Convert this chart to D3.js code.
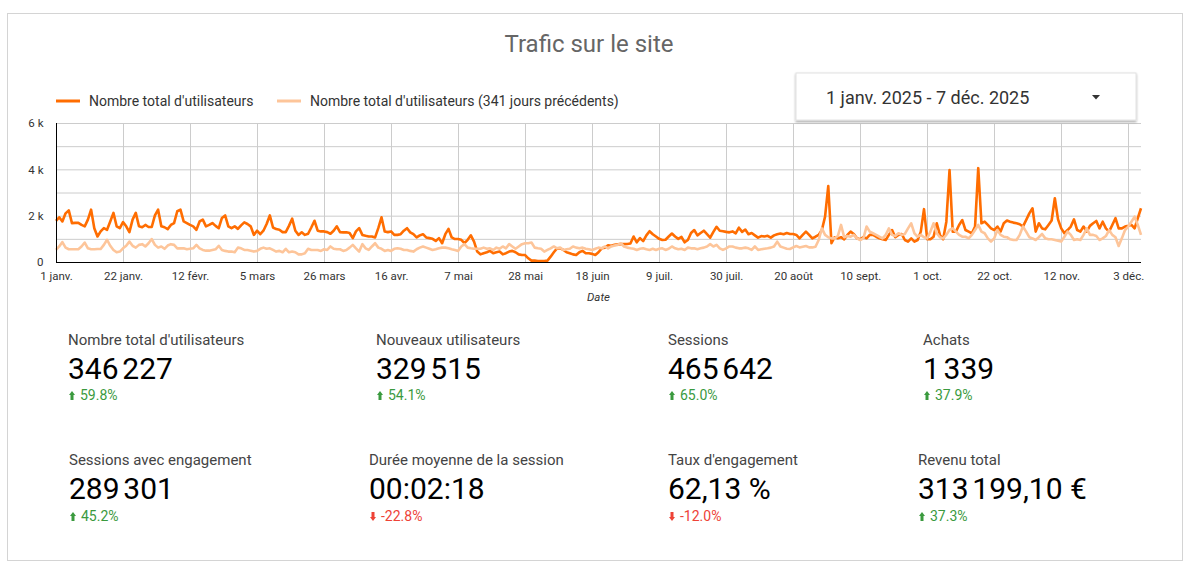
<!DOCTYPE html>
<html lang="fr">
<head>
<meta charset="utf-8">
<script src="https://cdn.jsdelivr.net/npm/d3@7"></script>
<style>
  html, body { margin: 0; padding: 0; background: #fff; }
  svg { display: block; font-family: Roboto, "Noto Sans", sans-serif; }
</style>
</head>
<body>
<svg id="chart" width="1189" height="566"></svg>
<script>
// ---------------- DATA ----------------
const chartTitle = "Trafic sur le site";
const seriesNames = ["Nombre total d'utilisateurs", "Nombre total d'utilisateurs (341 jours précédents)"];
const dateRangeLabel = "1 janv. 2025 - 7 déc. 2025";
const startDate = "2025-01-01";
const endDate = "2025-12-07";
const xAxisTitle = "Date";

const xTickLabels = ["1 janv.", "22 janv.", "12 févr.", "5 mars", "26 mars", "16 avr.", "7 mai", "28 mai",
  "18 juin", "9 juil.", "30 juil.", "20 août", "10 sept.", "1 oct.", "22 oct.", "12 nov.", "3 déc."];
const xTickStepDays = 21;
const yTickValues = [0, 2000, 4000, 6000];
const yTickLabels = ["0", "2 k", "4 k", "6 k"];
const yGridValues = [1000, 2000, 3000, 4000, 5000, 6000];

// Daily users, 1 janv. 2025 -> 7 déc. 2025 (341 days)
const currentUsers = [
  1780,1930,1750,2100,2230,1680,1690,1690,1600,1540,
  1830,2260,1460,1100,1320,1460,1390,1750,2120,1540,
  1460,1720,1540,1290,1830,2120,1540,1500,1600,1510,
  1510,2010,2260,1540,1500,1420,1600,1680,2190,2260,
  1750,1680,1600,1540,1390,1750,1830,1540,1600,1680,
  1560,1460,1900,2010,1540,1460,1540,1430,
  1580,1710,1640,1540,1170,1350,1200,1350,1640,2010,
  1490,1420,1390,1290,1290,1560,1870,1350,1170,1280,
  1170,1220,1490,1780,1350,1320,1320,1290,1220,1350,
  1540,1290,1280,1280,1250,1030,1320,1460,1170,1130,
  1100,1100,1060,1460,1930,1320,1290,1320,1170,1170,
  1200,1350,1460,1280,1200,1060,
  1150,1200,1060,1030,1000,910,1030,810,1200,1430,
  1060,990,990,960,810,960,1150,880,450,330,
  380,420,480,380,420,450,330,380,450,480,
  420,330,300,300,160,60,60,40,40,40,
  60,230,420,590,590,520,420,380,330,300,
  420,480,380,380,350,300,420,590,
  620,720,700,740,760,770,770,780,800,1100,
  850,1030,900,1150,1330,1200,1100,1000,950,960,
  1100,1230,1100,1000,1080,850,950,1250,1380,1150,
  1250,1350,1200,1050,1300,1520,1350,1330,1300,1280,
  1320,1240,1480,1300,1400,1200,1250,1150,1050,1120,
  1100,1130,1050,1150,1200,1230,1200,1250,
  1210,1210,1170,1020,1170,1310,1170,1020,1090,1170,
  1380,1960,3280,810,1070,1020,1070,980,1170,1310,
  1210,1020,980,1070,1020,1170,1170,1090,1020,980,
  950,1170,1380,1070,1170,1210,950,880,1020,880,
  950,1310,2280,980,980,1090,1670,1170,980,1740,
  3970,1310,1310,1600,1810,
  1380,1310,1240,1530,4050,1670,1740,1600,1450,1380,
  1530,1310,1670,1790,1740,1700,1670,1630,1530,1810,
  2100,2320,1310,1670,1450,1410,1600,1790,2750,1840,
  1450,1240,1380,1530,1840,1380,1310,1530,1310,1560,
  1670,1770,1450,1740,1450,1310,1600,1890,1450,1450,
  1530,1560,1600,1450,1890,2320
];
const previousUsers = [
  520,670,860,620,550,550,550,550,670,840,
  590,550,550,560,560,740,960,700,520,420,
  450,590,700,880,700,620,740,770,670,810,
  990,740,620,670,570,710,770,740,590,590,
  590,550,570,590,740,590,520,490,490,520,
  550,700,520,480,450,450,420,620,
  590,520,520,490,450,480,570,620,570,590,
  520,450,480,420,570,420,450,420,330,330,
  380,570,520,520,520,480,550,520,670,570,
  550,550,480,520,620,740,590,450,770,590,
  520,670,810,620,570,480,520,480,570,590,
  570,520,520,480,450,550,
  620,670,620,570,520,550,590,620,620,590,
  550,520,480,670,770,620,590,570,570,570,
  620,570,590,520,620,570,670,590,770,670,
  570,670,770,810,810,840,620,590,570,450,
  520,590,670,590,620,520,550,570,670,620,
  590,620,570,550,520,570,620,590,
  670,590,670,710,740,810,670,620,590,570,
  520,570,590,550,520,570,520,570,590,520,
  570,670,590,550,570,520,620,590,590,550,
  590,620,670,770,670,740,590,520,590,670,
  670,620,590,590,620,590,520,670,520,550,
  570,590,620,670,880,670,620,570,
  560,630,690,630,660,690,630,630,660,950,
  1450,1170,1070,1020,1020,1120,1600,1070,1120,1090,
  1170,1020,950,1020,1530,1310,1240,1170,1090,1020,
  1170,1450,1170,1120,1240,1170,1210,1450,1670,1240,
  1090,1170,1070,1020,1310,1670,1240,1070,1020,1170,
  1380,1450,1310,1170,1090,
  1090,1020,1170,1380,1600,1310,1240,1020,880,1020,
  1380,1170,1090,1070,980,950,950,1170,1530,1310,
  1070,1020,950,1070,1210,1020,980,980,950,920,
  880,1090,1310,1170,950,980,950,1170,1450,1170,
  1170,1120,950,1020,1120,1380,1170,1070,690,1020,
  1380,1530,1740,1960,1600,1170
];

// Scorecards
const kpiLabels = ["Nombre total d'utilisateurs", "Nouveaux utilisateurs", "Sessions", "Achats",
  "Sessions avec engagement", "Durée moyenne de la session", "Taux d'engagement", "Revenu total"];
const kpiValues = ["346\u202F227", "329\u202F515", "465\u202F642", "1\u202F339",
  "289\u202F301", "00:02:18", "62,13\u00A0%", "313\u202F199,10\u00A0€"];
const kpiChanges = [59.8, 54.1, 65.0, 37.9, 45.2, -22.8, -12.0, 37.3];

// ---------------- LAYOUT ----------------
const svg = d3.select("#chart");
const colCur = "#ff6d01", colPrev = "#fdc59a";
const plot = { left: 56, right: 1141, top: 123, bottom: 262 };

// frame
svg.append("rect").attr("x", 7.5).attr("y", 13.5).attr("width", 1175).attr("height", 547)
  .attr("fill", "#fff").attr("stroke", "#d4d4d4");

// title
svg.append("text").attr("x", 589).attr("y", 52).attr("text-anchor", "middle")
  .attr("font-size", 24).attr("fill", "#666").text(chartTitle);

// legend
const legendItems = [{ x: 56, color: colCur }, { x: 277, color: colPrev }];
legendItems.forEach((it, i) => {
  svg.append("line").attr("x1", it.x).attr("x2", it.x + 24).attr("y1", 101).attr("y2", 101)
    .attr("stroke", it.color).attr("stroke-width", 3);
  svg.append("text").attr("x", it.x + 33).attr("y", 106).attr("font-size", 14)
    .attr("fill", "#333").text(seriesNames[i]);
});

// scales
const parse = d3.utcParse("%Y-%m-%d");
const d0 = parse(startDate), d1 = parse(endDate);
const x = d3.scaleUtc().domain([d0, d1]).range([plot.left, plot.right]);
const y = d3.scaleLinear().domain([0, 6000]).range([plot.bottom, plot.top]);
const dateAt = i => d3.utcDay.offset(d0, i);
const tickDates = xTickLabels.map((_, k) => d3.utcDay.offset(d0, k * xTickStepDays));

// grid
const grid = svg.append("g");
grid.selectAll("line.h").data(yGridValues).join("line")
  .attr("x1", plot.left).attr("x2", plot.right)
  .attr("y1", d => y(d) + 0.5).attr("y2", d => y(d) + 0.5)
  .attr("stroke", "#cccccc");
grid.selectAll("line.v").data(tickDates.slice(1)).join("line")
  .attr("x1", d => Math.round(x(d)) + 0.5).attr("x2", d => Math.round(x(d)) + 0.5)
  .attr("y1", plot.top).attr("y2", plot.bottom)
  .attr("stroke", "#cccccc");

// axes
const xAxis = svg.append("g").attr("transform", `translate(0,${plot.bottom})`)
  .call(d3.axisBottom(x).tickValues(tickDates).tickFormat((d, i) => xTickLabels[i])
    .tickSize(0).tickPadding(10));
xAxis.select(".domain").remove();
xAxis.selectAll("text").attr("font-size", 11.5).attr("fill", "#333").attr("font-family", "Roboto");

const yAxis = svg.append("g").attr("transform", `translate(${plot.left},0)`)
  .call(d3.axisLeft(y).tickValues(yTickValues).tickFormat((d, i) => yTickLabels[i])
    .tickSize(0).tickPadding(12.5));
yAxis.select(".domain").remove();
yAxis.selectAll("text").attr("font-size", 11.5).attr("fill", "#333").attr("font-family", "Roboto");

svg.append("text").attr("x", (plot.left + plot.right) / 2).attr("y", 301)
  .attr("text-anchor", "middle").attr("font-size", 11.5).attr("font-style", "italic")
  .attr("fill", "#333").text(xAxisTitle);

// lines
const line = d3.line().x((d, i) => x(dateAt(i))).y(d => y(d)).curve(d3.curveLinear);
svg.append("path").datum(currentUsers).attr("d", line).attr("fill", "none")
  .attr("stroke", colCur).attr("stroke-width", 2.6).attr("stroke-linejoin", "round");
svg.append("path").datum(previousUsers).attr("d", line).attr("fill", "none")
  .attr("stroke", colPrev).attr("stroke-width", 2.6).attr("stroke-linejoin", "round");

// axis lines
svg.append("line").attr("x1", plot.left).attr("x2", plot.right)
  .attr("y1", plot.bottom + 0.5).attr("y2", plot.bottom + 0.5).attr("stroke", "#000");
svg.append("line").attr("x1", plot.left + 0.5).attr("x2", plot.left + 0.5)
  .attr("y1", plot.top).attr("y2", plot.bottom + 1).attr("stroke", "#000");

// date range control
const defs = svg.append("defs");
const f = defs.append("filter").attr("id", "shadow").attr("x", "-10%").attr("y", "-20%")
  .attr("width", "120%").attr("height", "150%");
f.append("feDropShadow").attr("dx", 0).attr("dy", 1.5).attr("stdDeviation", 1.2)
  .attr("flood-color", "#000").attr("flood-opacity", 0.35);
svg.append("rect").attr("x", 796).attr("y", 73).attr("width", 340).attr("height", 47)
  .attr("fill", "#fff").attr("stroke", "#e2e2e2").attr("filter", "url(#shadow)");
svg.append("text").attr("x", 826).attr("y", 104).attr("font-size", 18).attr("fill", "#333")
  .text(dateRangeLabel);
svg.append("path").attr("d", "M1092,95 L1100,95 L1096,99.5 Z").attr("fill", "#333");

// scorecards
const colX = [[68, 376, 668, 923], [69, 369, 668, 918]];
const rowY = [{ label: 345, value: 379, change: 400 }, { label: 465, value: 499, change: 521 }];
kpiLabels.forEach((lab, i) => {
  const r = Math.floor(i / 4), c = i % 4;
  const cx = colX[r][c], ry = rowY[r];
  const g = svg.append("g");
  g.append("text").attr("x", cx).attr("y", ry.label).attr("font-size", 15).attr("fill", "#444").text(lab);
  g.append("text").attr("x", cx).attr("y", ry.value).attr("font-size", 30).attr("fill", "#000").text(kpiValues[i]);
  const ch = kpiChanges[i];
  const up = ch >= 0;
  const col = up ? "#3a9a3e" : "#ee4237";
  const ax = cx + 4, by = ry.change;
  const arrow = up
    ? `M${ax - 3},${by - 5} L${ax},${by - 9} L${ax + 3},${by - 5} L${ax + 1.5},${by - 5} L${ax + 1.5},${by} L${ax - 1.5},${by} L${ax - 1.5},${by - 5} Z`
    : `M${ax - 1.5},${by - 9} L${ax + 1.5},${by - 9} L${ax + 1.5},${by - 4} L${ax + 3},${by - 4} L${ax},${by} L${ax - 3},${by - 4} L${ax - 1.5},${by - 4} Z`;
  g.append("path").attr("d", arrow).attr("fill", col);
  g.append("text").attr("x", cx + 12).attr("y", by).attr("font-size", 14).attr("fill", col)
    .text(ch.toFixed(1) + "%");
});
</script>
</body>
</html>
